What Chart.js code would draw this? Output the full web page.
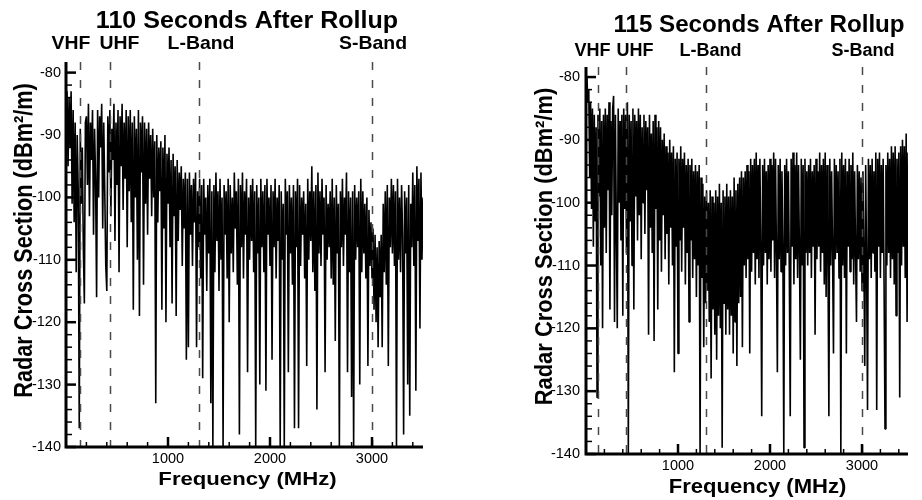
<!DOCTYPE html>
<html>
<head>
<meta charset="utf-8">
<script src="https://cdn.jsdelivr.net/npm/chart.js@4.4.0/dist/chart.umd.min.js"></script>
<style>
  html, body { margin: 0; padding: 0; background: #fff; }
  #wrap { position: relative; width: 922px; height: 500px; }
  canvas { position: absolute; top: 0; }
</style>
</head>
<body>
<div id="wrap">
  <canvas id="left" width="461" height="500" style="left:0;width:461px;height:500px"></canvas>
  <canvas id="right" width="461" height="500" style="left:461px;width:461px;height:500px"></canvas>
</div>
<script>
// sweep starts at 0 MHz, one sample every 10 MHz
const freqStepMHz = 10;

// radar cross section, dBm^2/m, 110 s after rollup (rows of 200 MHz)
const rcs110 = [
  -84, -83, -95, -84, -92, -83, -101, -86, -104, -88, -112, -90, -99, -137, -89, -101, -92, -108, -117, -88,
  -87, -98, -85, -103, -88, -94, -86, -106, -89, -97, -116, -86, -100, -87, -92, -85, -105, -88, -99, -111,
  -115, -87, -96, -86, -103, -89, -94, -85, -107, -88, -98, -86, -112, -87, -95, -85, -102, -88, -97, -86,
  -108, -87, -99, -86, -104, -88, -118, -87, -100, -89, -110, -86, -119, -88, -96, -87, -114, -88, -101, -89,
  -106, -88, -97, -90, -103, -89, -100, -91, -133, -90, -104, -92, -99, -91, -118, -92, -105, -90, -120, -93,
  -101, -92, -108, -94, -117, -93, -103, -95, -119, -94, -107, -96, -102, -95, -111, -97, -105, -96, -126, -97,
  -124, -96, -106, -98, -111, -97, -104, -96, -124, -99, -108, -97, -113, -98, -129, -97, -106, -100, -115, -98,
  -109, -97, -133, -99, -140, -98, -112, -96, -107, -99, -115, -97, -110, -100, -140, -98, -106, -99, -113, -97,
  -120, -98, -109, -100, -112, -96, -105, -99, -114, -97, -138, -98, -108, -96, -113, -99, -106, -97, -128, -100,
  -110, -98, -107, -97, -112, -99, -140, -98, -109, -100, -130, -97, -108, -99, -112, -98, -131, -97, -106, -100,
  -111, -98, -126, -99, -108, -97, -113, -100, -107, -98, -140, -99, -110, -101, -140, -97, -106, -99, -128, -98,
  -109, -100, -114, -98, -137, -99, -108, -97, -137, -98, -111, -100, -106, -99, -113, -101, -127, -97, -110, -99,
  -107, -95, -112, -99, -115, -98, -134, -96, -109, -99, -111, -97, -106, -100, -128, -98, -110, -101, -108, -99,
  -113, -97, -114, -100, -123, -98, -109, -101, -140, -99, -108, -97, -111, -100, -106, -96, -128, -99, -112, -100,
  -132, -99, -140, -98, -110, -100, -108, -99, -130, -97, -112, -99, -109, -101, -113, -100, -127, -102, -111, -104,
  -113, -105, -118, -106, -120, -108, -124, -107, -116, -106, -124, -101, -112, -99, -114, -98, -127, -100, -108, -97,
  -109, -98, -111, -99, -140, -97, -110, -100, -112, -98, -106, -138, -99, -109, -100, -130, -98, -135, -101, -108,
  -96, -111, -98, -131, -95, -107, -97, -121, -96, -110, -100
];

// radar cross section, dBm^2/m, 115 s after rollup (rows of 200 MHz)
const rcs115 = [
  -81, -80, -84, -82, -96, -84, -101, -85, -107, -86, -103, -88, -131, -86, -99, -85, -110, -87, -120, -86,
  -104, -85, -108, -86, -98, -84, -117, -87, -102, -85, -83, -119, -86, -104, -120, -85, -100, -87, -106, -86,
  -118, -85, -101, -86, -108, -84, -140, -86, -103, -87, -110, -85, -117, -86, -99, -87, -106, -85, -102, -86,
  -109, -88, -100, -86, -105, -87, -98, -88, -121, -86, -104, -89, -108, -87, -122, -86, -101, -88, -117, -87,
  -106, -88, -111, -90, -102, -89, -109, -91, -105, -92, -113, -90, -104, -92, -110, -91, -127, -93, -107, -92,
  -124, -93, -106, -91, -111, -93, -104, -92, -113, -94, -108, -93, -119, -94, -106, -93, -112, -95, -109, -94,
  -115, -95, -110, -94, -140, -96, -112, -97, -123, -99, -116, -98, -114, -100, -119, -98, -128, -99, -117, -100,
  -121, -98, -125, -99, -118, -97, -120, -100, -139, -98, -116, -99, -121, -97, -117, -99, -121, -98, -118, -99,
  -124, -96, -119, -98, -126, -97, -116, -96, -115, -95, -123, -96, -110, -95, -112, -94, -109, -95, -124, -93,
  -111, -94, -108, -93, -113, -92, -109, -94, -112, -93, -107, -134, -94, -110, -93, -108, -95, -113, -94, -109,
  -93, -111, -94, -106, -92, -112, -93, -108, -127, -94, -109, -93, -111, -95, -107, -140, -94, -110, -93, -108,
  -95, -111, -134, -93, -107, -92, -113, -94, -109, -92, -112, -94, -108, -125, -93, -110, -94, -139, -93, -108,
  -95, -110, -94, -108, -93, -112, -95, -107, -94, -121, -93, -109, -95, -107, -92, -111, -94, -108, -93, -113,
  -92, -115, -94, -109, -134, -93, -110, -95, -108, -124, -93, -109, -94, -108, -95, -112, -93, -140, -92, -110,
  -94, -112, -93, -124, -95, -107, -93, -111, -94, -109, -92, -113, -95, -108, -119, -94, -109, -95, -111, -96,
  -114, -95, -108, -126, -94, -110, -133, -93, -109, -94, -112, -93, -108, -95, -111, -92, -133, -93, -107, -92,
  -112, -94, -108, -93, -113, -136, -94, -110, -92, -108, -93, -112, -91, -109, -92, -113, -91, -118, -93, -108,
  -92, -131, -91, -110, -90, -107, -91, -112, -89, -119, -92
];

const bandNames = ['VHF', 'UHF', 'L-Band', 'S-Band'];
const bandEdgesMHz = [135, 435, 1300, 3000];

const xTickLabels = [1000, 2000, 3000];
const yTickLabels = [-140, -130, -120, -110, -100, -90, -80];

const FONT = '"Liberation Sans", Arial, Helvetica, sans-serif';

const panels = [
  {
    id: 'left', title: '110 Seconds After Rollup', values: rcs110,
    box: {left: 66, top: 62, right: 423, bottom: 447}, yMax: -78.3, yPad: 5,
    titleAt: {x: 247, y: 28, size: 23, sx: 1.09},
    bandX: [71, 119.5, 201, 373], bandY: 49, bandSize: 18.5, bandSx: 1.05,
    yTitleAt: {x: 31.5, y: 240.5, size: 21.7, sx: 1.15},
    xTitleAt: {x: 247.5, y: 485, size: 18.6, sx: 1.19}
  },
  {
    id: 'right', title: '115 Seconds After Rollup', values: rcs115,
    box: {left: 125, top: 67, right: 447, bottom: 454}, yMax: -78.4, yPad: 6,
    titleAt: {x: 298, y: 31.5, size: 23, sx: 1.05},
    bandX: [131.5, 174, 249.5, 402], bandY: 55.5, bandSize: 18, bandSx: 1.0,
    yTitleAt: {x: 90.5, y: 246.5, size: 21.9, sx: 1.07},
    xTitleAt: {x: 296.5, y: 493, size: 21, sx: 1.05}
  }
];

function drawText(ctx, text, at, size, sx, rotate) {
  ctx.save();
  ctx.translate(at.x, at.y);
  ctx.scale(sx, 1);
  if (rotate) ctx.rotate(-Math.PI / 2);
  ctx.font = 'bold ' + size + 'px ' + FONT;
  ctx.fillStyle = '#000';
  ctx.textAlign = 'center';
  ctx.textBaseline = 'alphabetic';
  ctx.fillText(text, 0, 0);
  ctx.restore();
}

function decor(p) {
  return {
    id: 'decor',
    afterDatasetsDraw(chart) {
      const {ctx, chartArea: a, scales: {x}} = chart;
      // band edges, dashed, drawn over the trace
      ctx.save();
      ctx.strokeStyle = '#4a4a4a';
      ctx.lineWidth = 1.5;
      ctx.setLineDash([8, 10]);
      bandEdgesMHz.forEach(f => {
        const px = Math.round(x.getPixelForValue(f)) + 0.5;
        ctx.beginPath();
        ctx.moveTo(px, a.top);
        ctx.lineTo(px, a.bottom);
        ctx.stroke();
      });
      ctx.restore();
    },
    afterDraw(chart) {
      const {ctx, chartArea: a, scales: {x, y}} = chart;
      ctx.save();
      ctx.strokeStyle = '#000';
      // inward tick marks: minor every 2 dB / 200 MHz, major at labels
      for (let v = -140; v <= -80; v += 2) {
        const major = v % 10 === 0;
        const py = y.getPixelForValue(v);
        ctx.lineWidth = major ? 2.5 : 1.5;
        ctx.beginPath();
        ctx.moveTo(a.left, py);
        ctx.lineTo(a.left + (major ? 10 : 6), py);
        ctx.stroke();
      }
      for (let f = 200; f <= 3400; f += 200) {
        const major = f % 1000 === 0;
        const px = x.getPixelForValue(f);
        ctx.lineWidth = major ? 2.5 : 1.5;
        ctx.beginPath();
        ctx.moveTo(px, a.bottom);
        ctx.lineTo(px, a.bottom - (major ? 10 : 5));
        ctx.stroke();
      }
      // axes
      ctx.lineWidth = 3;
      ctx.beginPath();
      ctx.moveTo(a.left, a.top);
      ctx.lineTo(a.left, a.bottom);
      ctx.lineTo(a.right, a.bottom);
      ctx.stroke();
      ctx.restore();

      drawText(ctx, p.title, p.titleAt, p.titleAt.size, p.titleAt.sx, false);
      bandNames.forEach((name, i) => {
        drawText(ctx, name, {x: p.bandX[i], y: p.bandY}, p.bandSize, p.bandSx, false);
      });
      drawText(ctx, 'Radar Cross Section (dBm\u00B2/m)', p.yTitleAt, p.yTitleAt.size, p.yTitleAt.sx, true);
      drawText(ctx, 'Frequency (MHz)', p.xTitleAt, p.xTitleAt.size, p.xTitleAt.sx, false);
    }
  };
}

function makePanel(p) {
  const el = document.getElementById(p.id);
  const W = el.width, H = el.height;
  const points = p.values.map((v, i) => ({x: i * freqStepMHz, y: v}));
  return new Chart(el, {
    type: 'line',
    data: {
      datasets: [{
        data: points,
        borderColor: '#000',
        borderWidth: 1.6,
        borderJoinStyle: 'bevel',
        pointRadius: 0,
        tension: 0,
        fill: false
      }]
    },
    options: {
      responsive: false,
      animation: false,
      events: [],
      layout: {padding: {top: p.box.top, right: W - p.box.right, left: 0, bottom: 0}},
      plugins: {legend: {display: false}, tooltip: {enabled: false}},
      scales: {
        x: {
          type: 'linear', min: 0, max: 3500,
          afterBuildTicks: s => { s.ticks = xTickLabels.map(v => ({value: v})); },
          afterFit: s => { s.height = H - p.box.bottom; },
          grid: {display: false, drawTicks: false},
          border: {display: false},
          ticks: {
            callback: v => String(v), maxRotation: 0, autoSkip: false,
            color: '#000', padding: 3, font: {family: FONT, size: 14.5}
          }
        },
        y: {
          type: 'linear', min: -140, max: p.yMax,
          afterBuildTicks: s => { s.ticks = yTickLabels.map(v => ({value: v})); },
          afterFit: s => { s.width = p.box.left; },
          grid: {display: false, drawTicks: false},
          border: {display: false},
          ticks: {
            callback: v => String(v), autoSkip: false,
            color: '#000', padding: p.yPad, font: {family: FONT, size: 14.5}
          }
        }
      }
    },
    plugins: [decor(p)]
  });
}

panels.forEach(makePanel);
</script>
</body>
</html>
